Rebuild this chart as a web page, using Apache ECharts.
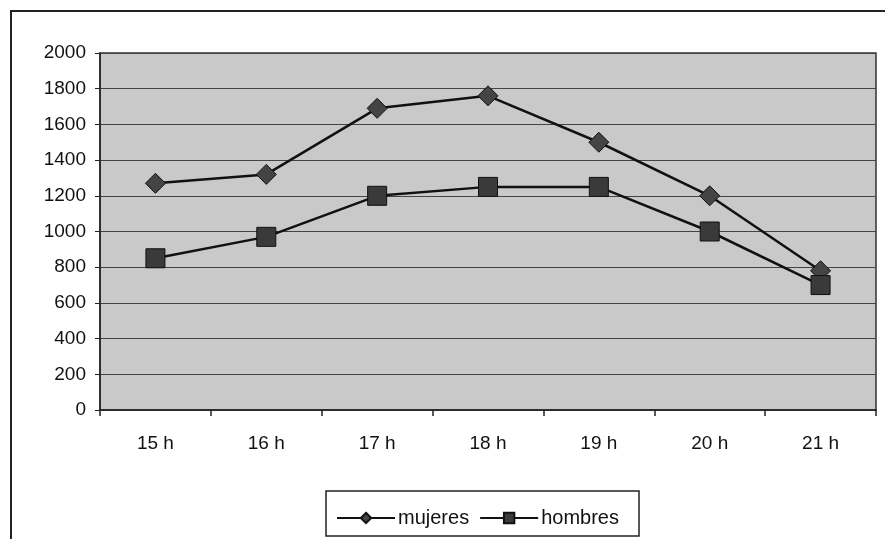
<!DOCTYPE html>
<html><head><meta charset="utf-8">
<script src="https://cdn.jsdelivr.net/npm/echarts@6/dist/echarts.min.js"></script>
<style>html,body{margin:0;padding:0;background:#fff}#c{width:885px;height:539px}</style>
</head><body><div id="c"></div>
<script>
const categories = ['15 h','16 h','17 h','18 h','19 h','20 h','21 h'];
const mujeres = [1270, 1320, 1690, 1760, 1500, 1200, 780];
const hombres = [850, 970, 1200, 1250, 1250, 1000, 700];
const seriesNames = ['mujeres','hombres'];

const chart = echarts.init(document.getElementById('c'));
chart.setOption({
  animation:false,
  backgroundColor:'#fff',
  textStyle:{fontFamily:'Liberation Sans, Arial, sans-serif'},
  graphic:[
    {type:'line',shape:{x1:10,y1:11,x2:885,y2:11},style:{stroke:'#222',lineWidth:2}},
    {type:'line',shape:{x1:11,y1:10,x2:11,y2:539},style:{stroke:'#222',lineWidth:2}},
    {type:'rect',shape:{x:326,y:491,width:313,height:45},style:{fill:'#fff',stroke:'#222',lineWidth:1.5},z:0}
  ],
  grid:{left:100,right:9,top:53,bottom:129,backgroundColor:'#c9c9c9',show:true,borderColor:'#333',borderWidth:1.5},
  legend:{
    data:seriesNames,
    left:331,top:503,itemWidth:58,itemHeight:13,itemGap:10,
    textStyle:{fontSize:20,color:'#111',fontFamily:'Liberation Sans, Arial, sans-serif',padding:[0,0,0,-2]},
    z:10
  },
  xAxis:{
    type:'category',data:categories,boundaryGap:true,
    axisLine:{lineStyle:{color:'#222',width:1.5}},
    axisTick:{show:true,length:6,lineStyle:{color:'#222',width:1.5}},
    axisLabel:{fontSize:19,color:'#111',margin:24}
  },
  yAxis:{
    type:'value',min:0,max:2000,interval:200,
    axisLine:{show:true,lineStyle:{color:'#222',width:1.5}},
    axisTick:{show:true,length:5,lineStyle:{color:'#222'}},
    axisLabel:{fontSize:19,color:'#111',margin:14,formatter:function(v){return String(v);}},
    splitLine:{lineStyle:{color:'#444',width:1.2}}
  },
  series:[
    {name:seriesNames[0],type:'line',data:mujeres,symbol:'diamond',symbolSize:20,
     lineStyle:{color:'#111',width:2.5},itemStyle:{color:'#444',borderColor:'#111',borderWidth:1}},
    {name:seriesNames[1],type:'line',data:hombres,symbol:'rect',symbolSize:19,
     lineStyle:{color:'#111',width:2.5},itemStyle:{color:'#3a3a3a',borderColor:'#111',borderWidth:1}}
  ]
});
</script></body></html>
